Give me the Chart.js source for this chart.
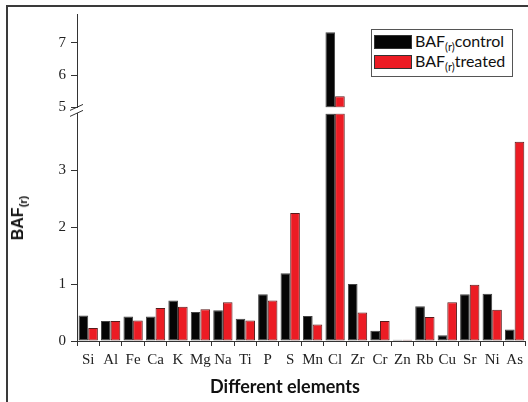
<!DOCTYPE html>
<html>
<head>
<meta charset="utf-8">
<script src="https://cdn.jsdelivr.net/npm/chart.js@4.4.1/dist/chart.umd.min.js"></script>
<style>
  html, body { margin: 0; padding: 0; background: #fff; overflow: hidden; }
  #wrap { position: relative; width: 528px; height: 402px; overflow: hidden; }
  #frame { position: absolute; left: 6px; top: 5px; width: 540px; height: 420px; border: 2px solid #3a3a3a; box-sizing: border-box; }
  #chart { position: absolute; left: 0; top: 0; }
  #legend { position: absolute; left: 371px; top: 29px; width: 142px; height: 48px; border: 1px solid #555; background: #fff; box-sizing: border-box; font-family: Lato, sans-serif; font-size: 16px; color: #111; }
  .row { position: absolute; left: 2px; height: 14px; white-space: nowrap; }
  .swatch { position: absolute; left: 0; top: 0; width: 36px; height: 12px; border: 1px solid #333; }
  .label { position: absolute; left: 41px; top: -4px; line-height: 20px; }
  sub { font-size: 11px; vertical-align: -4px; line-height: 0; }
  #ytitle { position: absolute; left: 18px; top: 218px; transform: translate(-50%, -50%) rotate(-90deg); font-family: "Liberation Sans", Arial, sans-serif; font-weight: bold; font-size: 16px; white-space: nowrap; color: #111; }
  #xtitle { position: absolute; left: 285px; top: 386px; transform: translate(-50%, -50%); font-family: Lato, sans-serif; font-weight: bold; font-size: 18px; white-space: nowrap; color: #111; }
</style>
</head>
<body>
<div id="wrap">
  <div id="frame"></div>
  <canvas id="chart" width="528" height="402"></canvas>
  <div id="legend"></div>
  <div id="ytitle">BAF<sub>(r)</sub></div>
  <div id="xtitle">Different elements</div>
</div>
<script>
// chart data
const categories = ['Si', 'Al', 'Fe', 'Ca', 'K', 'Mg', 'Na', 'Ti', 'P', 'S', 'Mn', 'Cl', 'Zr', 'Cr', 'Zn', 'Rb', 'Cu', 'Sr', 'Ni', 'As'];
const controlValues = [0.45, 0.35, 0.43, 0.43, 0.71, 0.51, 0.54, 0.39, 0.82, 1.19, 0.44, 7.33, 1.00, 0.18, 0.02, 0.61, 0.10, 0.82, 0.83, 0.20];
const treatedValues = [0.23, 0.35, 0.36, 0.58, 0.60, 0.56, 0.68, 0.36, 0.71, 2.25, 0.29, 5.35, 0.50, 0.35, 0.02, 0.42, 0.68, 0.99, 0.55, 3.50];
const lowerTickLabels = [0, 1, 2, 3];
const upperTickLabels = [5, 6, 7];
const lowerRange = [0, 4];
const upperRange = [5, 7.9];

const controlColor = '#050505';
const treatedColor = '#ec1c24';

// split each series over the broken axis
function lowerPart(values) {
    return values.map(v => Math.min(v, lowerRange[1]));
}
function upperPart(values) {
    return values.map(v => v > upperRange[0] ? [upperRange[0], v] : null);
}

// legend (html so the subscript stays real text)
const legend = document.getElementById('legend');
[['control', controlColor], ['treated', treatedColor]].forEach(([name, color], i) => {
    const row = document.createElement('div');
    row.className = 'row';
    row.style.top = (5 + i * 20) + 'px';
    row.innerHTML = '<div class="swatch" style="background:' + color + '"></div>' +
        '<div class="label">BAF<sub>(r)</sub>' + name + '</div>';
    legend.appendChild(row);
});

function keepTicks(maxShown) {
    return function (scale) {
        scale.ticks = scale.ticks.filter(t => t.value <= maxShown && Math.abs(t.value * 2 - Math.round(t.value * 2)) < 1e-6);
    };
}

function tickLabel(list) {
    return function (value) {
        return list.includes(value) ? String(value) : '';
    };
}

const axisColor = '#333';
const serif = { family: '"Liberation Serif", "Times New Roman", serif', size: 15 };

// draws the // mark where the y axis is broken
const breakMarks = {
    id: 'breakMarks',
    afterDraw(chart) {
        const low = chart.scales.yLow;
        const high = chart.scales.yHigh;
        const x = low.right;
        const ctx = chart.ctx;
        ctx.save();
        ctx.strokeStyle = axisColor;
        ctx.lineWidth = 1;
        [high.bottom, low.top].forEach(y => {
            ctx.beginPath();
            ctx.moveTo(x - 7, y + 3);
            ctx.lineTo(x + 6, y - 3);
            ctx.stroke();
        });
        ctx.restore();
    }
};

const barStyle = { borderWidth: 1, borderSkipped: false, categoryPercentage: 0.86, barPercentage: 1.0 };

new Chart(document.getElementById('chart'), {
    type: 'bar',
    data: {
        labels: categories,
        datasets: [
            Object.assign({ label: 'control', data: lowerPart(controlValues), yAxisID: 'yLow', stack: 'control', backgroundColor: controlColor, borderColor: '#444' }, barStyle),
            Object.assign({ label: 'treated', data: lowerPart(treatedValues), yAxisID: 'yLow', stack: 'treated', backgroundColor: treatedColor, borderColor: '#5a1a1a' }, barStyle),
            Object.assign({ label: 'control high', data: upperPart(controlValues), yAxisID: 'yHigh', stack: 'control', backgroundColor: controlColor, borderColor: '#444' }, barStyle),
            Object.assign({ label: 'treated high', data: upperPart(treatedValues), yAxisID: 'yHigh', stack: 'treated', backgroundColor: treatedColor, borderColor: '#5a1a1a' }, barStyle)
        ]
    },
    options: {
        responsive: false,
        animation: false,
        layout: { padding: { top: 12, right: 1, left: 0, bottom: 0 } },
        plugins: { legend: { display: false }, tooltip: { enabled: false } },
        scales: {
            x: {
                offset: true,
                grid: { display: true, drawOnChartArea: false, tickLength: 5, color: axisColor },
                border: { color: axisColor },
                ticks: { color: '#222', font: serif, padding: 5, maxRotation: 0, autoSkip: false },
                afterFit(scale) { scale.height = 61; }
            },
            yLow: {
                type: 'linear',
                position: 'left',
                stack: 'y',
                stackWeight: 229,
                stacked: false,
                min: lowerRange[0],
                max: lowerRange[1],
                grid: { drawOnChartArea: false, tickLength: 6, color: axisColor },
                border: { color: axisColor },
                ticks: { stepSize: 0.5, color: '#222', font: serif, padding: 5, callback: tickLabel(lowerTickLabels) },
                afterBuildTicks: keepTicks(3.5),
                afterFit(scale) { scale.width = 77; }
            },
            yGap: {
                type: 'linear',
                position: 'left',
                stack: 'y',
                stackWeight: 6,
                grid: { display: false },
                border: { display: false },
                ticks: { display: false },
                afterFit(scale) { scale.width = 77; }
            },
            yHigh: {
                type: 'linear',
                position: 'left',
                stack: 'y',
                stackWeight: 94,
                stacked: false,
                min: upperRange[0],
                max: upperRange[1],
                grid: { drawOnChartArea: false, tickLength: 6, color: axisColor },
                border: { color: axisColor },
                ticks: { stepSize: 0.5, color: '#222', font: serif, padding: 5, callback: tickLabel(upperTickLabels) },
                afterBuildTicks: keepTicks(7.5),
                afterFit(scale) { scale.width = 77; }
            }
        }
    },
    plugins: [breakMarks]
});
</script>
</body>
</html>
